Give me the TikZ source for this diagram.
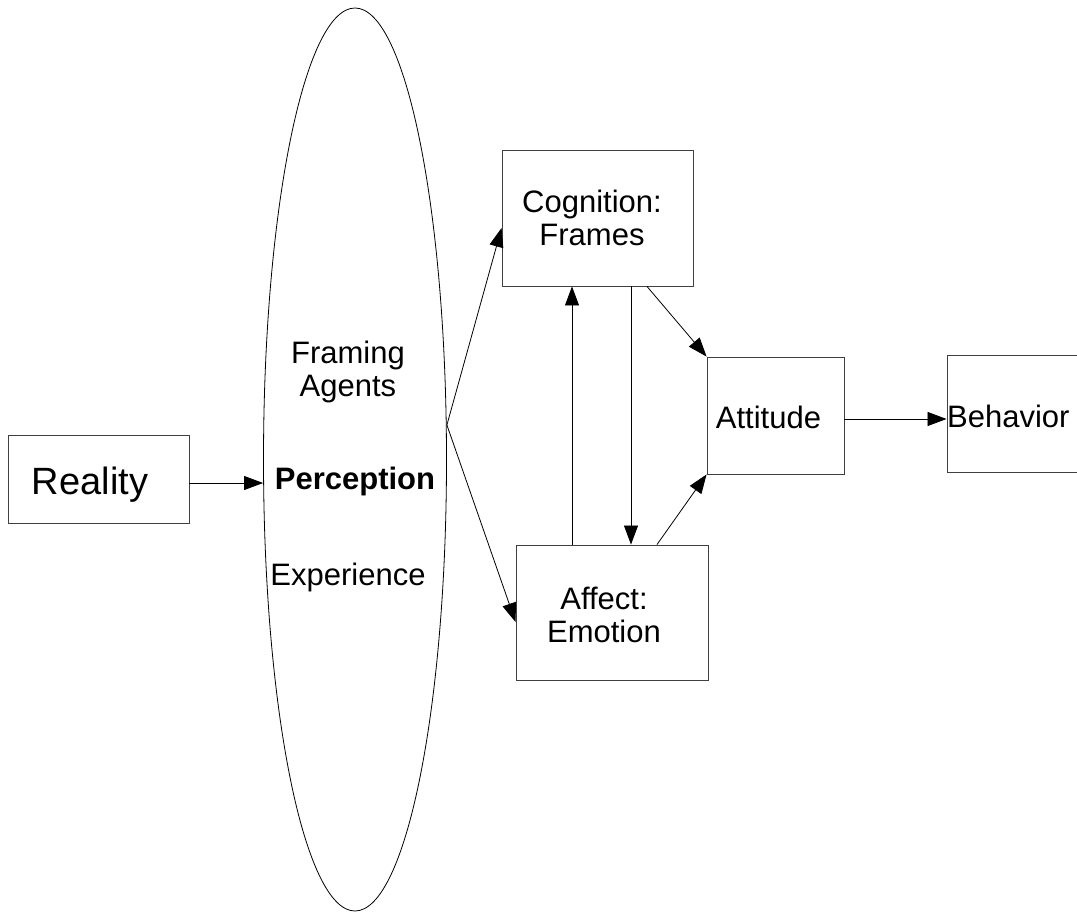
\documentclass[tikz,border=0pt]{standalone}
\usepackage{fontspec}
\setmainfont{Liberation Sans}
\usetikzlibrary{shapes.geometric,arrows.meta,calc}
\begin{document}
\begin{tikzpicture}[x=1pt,y=-1pt,
  box/.style={draw=black!75, line width=0.9pt, inner sep=0pt},
  lbl/.style={font=\fontsize{31}{33}\selectfont, inner sep=0pt, align=center},
  arr/.style={-{Triangle[length=19pt,width=14pt]}, line width=0.8pt}]
\useasboundingbox (0,0) rectangle (1077,912);
\clip (0,0) rectangle (1077,912);
\fill[white] (0,0) rectangle (1077,912);
% boxes
\node[box, minimum width=181pt, minimum height=88pt] (real) at (98.5,479) {};
\node[draw, ellipse, line width=0.8pt, minimum width=183pt, minimum height=903pt, inner sep=0pt] (ell) at (355,459.5) {};
\node[box, minimum width=191pt, minimum height=136pt] (cog) at (597.5,218) {};
\node[box, minimum width=192pt, minimum height=135pt] (aff) at (612,612.5) {};
\node[box, minimum width=137pt, minimum height=117pt] (att) at (775.5,415.5) {};
\node[box, minimum width=153pt, minimum height=117pt] (beh) at (1023.5,413.5) {};
% texts
\node[lbl, font=\fontsize{38}{40}\selectfont, anchor=base] (realt) at (90,494) {Reality};
\node[lbl] (fra) at (348,371.5) {Framing\\Agents};
\node[lbl, font=\fontsize{31}{33}\selectfont\bfseries, anchor=base] (per) at (355,489) {Perception};
\node[lbl, anchor=base] (exp) at (348,585) {Experience};
\node[lbl] (cogt) at (592,218) {Cognition:\\Frames};
\node[lbl] (afft) at (604,615) {Affect:\\Emotion};
\node[lbl, anchor=base] (attt) at (768.5,428) {Attitude};
\node[lbl, anchor=base west] (beht) at (947,427) {Behavior};
% connectors
\coordinate (r1) at ([yshift=-4pt]real.east);
\draw[arr] (r1) -- (r1 -| ell.west);
\coordinate (tip) at ([yshift=34.5pt]ell.east);
\draw[arr] (tip) -- ([yshift=-10pt]cog.west);
\draw[arr] (tip) -- ([yshift=-9.5pt]aff.west);
\coordinate (u1) at ([xshift=-40pt]aff.north);
\draw[arr] (u1) -- (u1 |- cog.south);
\coordinate (d1) at ([xshift=33.5pt]cog.south);
\draw[arr] (d1) -- (d1 |- aff.north);
\draw[arr] ([xshift=49.5pt]cog.south) -- (att.north west);
\draw[arr] ([xshift=45pt]aff.north) -- (att.south west);
\coordinate (a1) at ([yshift=-3.5pt]att.east);
\draw[arr] (a1) -- (a1 -| beh.west);
\end{tikzpicture}
\end{document}
